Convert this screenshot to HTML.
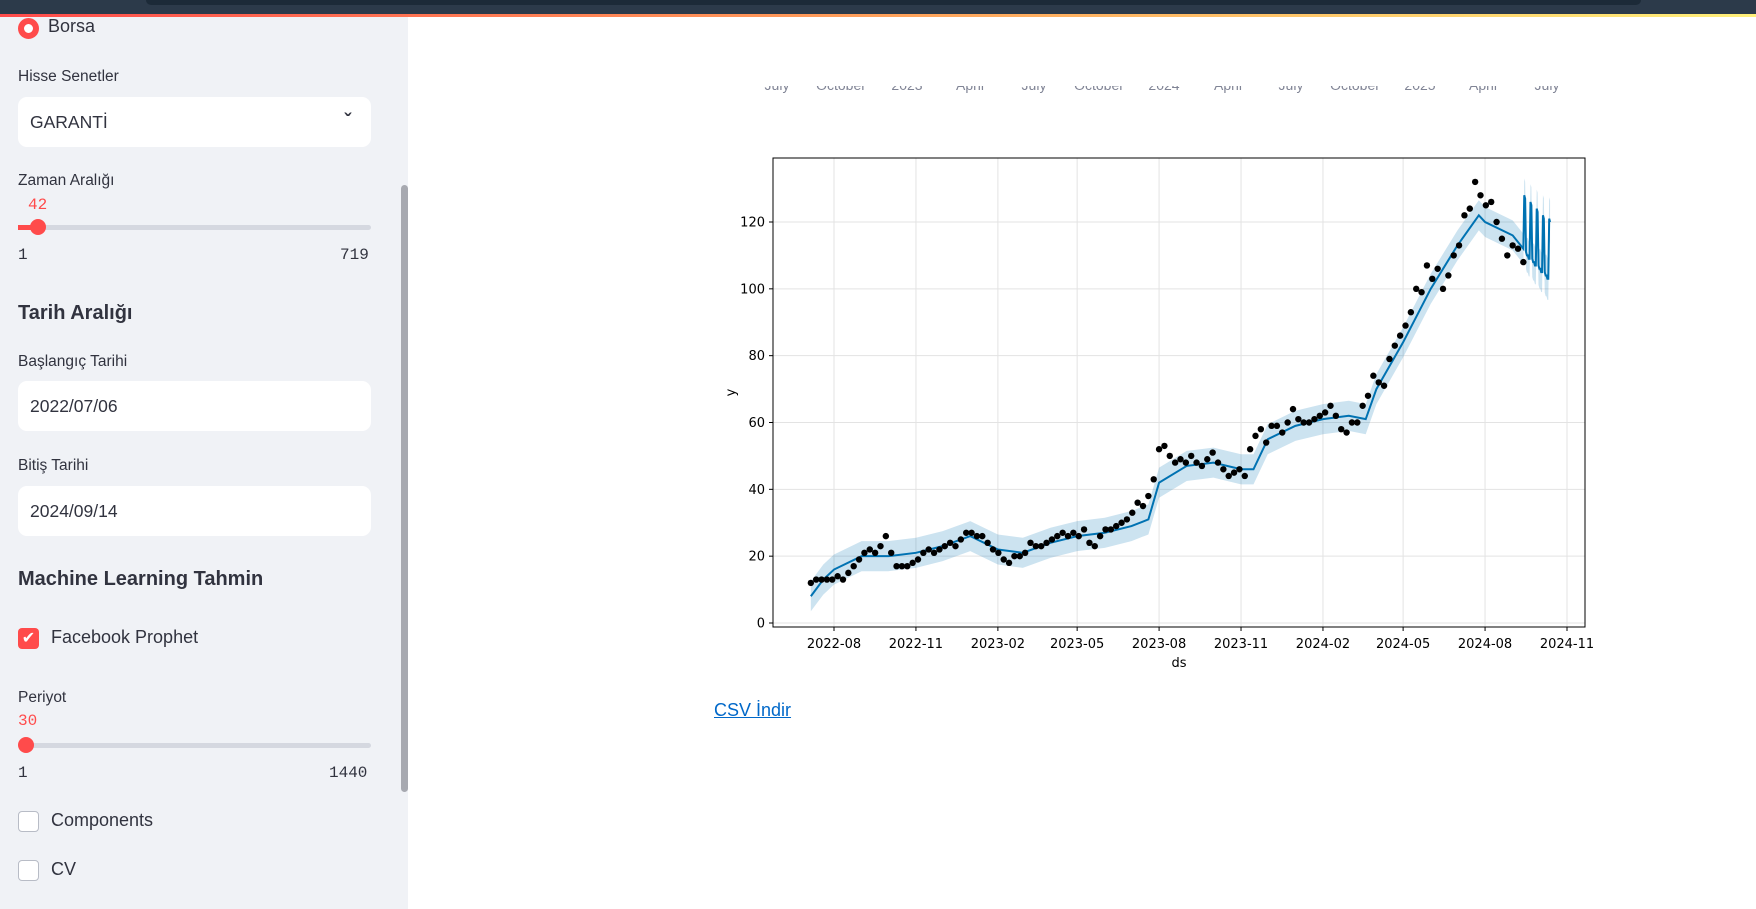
<!DOCTYPE html>
<html><head><meta charset="utf-8">
<style>
body{margin:0;width:1756px;height:909px;overflow:hidden;background:#fff;font-family:"Liberation Sans","DejaVu Sans",sans-serif;position:relative;color:#31333f}
.abs{position:absolute}
#sidebar{left:0;top:0;width:408px;height:909px;background:#f0f2f6}
.lbl{font-size:15.5px;color:#31333f}
.box{background:#fff;border-radius:9px;left:18px;width:353px;height:50px;font-size:17.5px;line-height:50px;text-indent:12px}
.h{font-size:20px;font-weight:bold}
.track{left:18px;width:353px;height:5px;background:#d5d8e0;border-radius:3px}
.mono{font-family:"Liberation Mono",monospace;font-size:16px}
.cb{width:19px;height:19px;border:1px solid #b8bcc6;border-radius:4px;background:#fff;left:18px}
</style></head><body>
<div class="abs" id="sidebar"></div>
<div class="abs" style="left:0;top:0;width:1756px;height:14px;background:#2c3a4a;z-index:5"></div>
<div class="abs" style="left:146px;top:0;width:1495px;height:5px;background:#1c2a38;border-radius:0 0 8px 8px;z-index:6"></div>
<div class="abs" style="left:0;top:14px;width:1756px;height:3px;background:linear-gradient(90deg,#ff4b4b,#ffa05a,#fff07a);z-index:5"></div>

<div class="abs" style="left:401px;top:185px;width:7px;height:607px;background:#a7a9b0;border-radius:4px"></div>
<div class="abs" style="left:18px;top:18px;width:9px;height:9px;border:6px solid #ff4b4b;border-radius:50%;background:#fff"></div>
<div class="abs" style="left:48px;top:16px;font-size:18px">Borsa</div>
<div class="abs lbl" style="left:18px;top:68px">Hisse Senetler</div>
<div class="abs box" style="top:97px">GARANTİ<span style="position:absolute;right:20px;top:0;font-size:20px;font-weight:bold">&#711;</span></div>
<div class="abs lbl" style="left:18px;top:172px">Zaman Aralığı</div>
<div class="abs mono" style="left:28px;top:196px;color:#ff4b4b">42</div>
<div class="abs track" style="top:225px"></div>
<div class="abs" style="left:18px;top:225px;width:20px;height:5px;background:#ff4b4b"></div>
<div class="abs" style="left:30px;top:219px;width:16px;height:16px;border-radius:50%;background:#ff4b4b"></div>
<div class="abs mono" style="left:18px;top:246px">1</div>
<div class="abs mono" style="left:340px;top:246px">719</div>
<div class="abs h" style="left:18px;top:302px">Tarih Aralığı</div>
<div class="abs lbl" style="left:18px;top:353px">Başlangıç Tarihi</div>
<div class="abs box" style="top:381px">2022/07/06</div>
<div class="abs lbl" style="left:18px;top:457px">Bitiş Tarihi</div>
<div class="abs box" style="top:486px">2024/09/14</div>
<div class="abs h" style="left:18px;top:568px">Machine Learning Tahmin</div>
<div class="abs" style="left:18px;top:628px;width:21px;height:21px;background:#ff4b4b;border-radius:4px;color:#fff;font-size:16px;line-height:21px;text-align:center">✔</div>
<div class="abs" style="left:51px;top:627px;font-size:18px">Facebook Prophet</div>
<div class="abs lbl" style="left:18px;top:689px">Periyot</div>
<div class="abs mono" style="left:18px;top:712px;color:#ff4b4b">30</div>
<div class="abs track" style="top:743px"></div>
<div class="abs" style="left:18px;top:737px;width:16px;height:16px;border-radius:50%;background:#ff4b4b"></div>
<div class="abs mono" style="left:18px;top:764px">1</div>
<div class="abs mono" style="left:329px;top:764px">1440</div>
<div class="abs cb" style="top:811px"></div>
<div class="abs" style="left:51px;top:810px;font-size:18px">Components</div>
<div class="abs cb" style="top:860px"></div>
<div class="abs" style="left:51px;top:859px;font-size:18px">CV</div>

<div class="abs" style="left:700px;top:86px;width:900px;height:20px;overflow:hidden">
<div id="prevaxis" style="position:relative;top:-9px;font-size:14px;color:#808495"></div></div>

<svg class="abs" id="chart" style="left:0;top:0" width="1756" height="909"></svg>

<a class="abs" style="left:714px;top:700px;font-size:18px;color:#0068c9;text-decoration:underline">CSV İndir</a>

<script>
const prevLabels=["July","October","2023","April","July","October","2024","April","July","October","2025","April","July"];
const prevX=[777,841,907,970,1034,1099,1164,1228,1291,1355,1420,1483,1547];
const pa=document.getElementById('prevaxis');
prevLabels.forEach((t,i)=>{const s=document.createElement('span');


s.textContent=t;s.style.position='absolute';s.style.left=(prevX[i]-700)+'px';s.style.transform='translateX(-50%)';pa.appendChild(s);});

// ---- chart data ----
const obsStart="2022-07-06";
const obsEnd="2024-09-13";
const obsValues=[12,13,13,13,13,14,13,15,17,19,21,22,21,23,26,21,17,17,17,18,19,21,22,21,22,23,24,23,25,27,27,26,26,24,22,21,19,18,20,20,21,24,23,23,24,25,26,27,26,27,26,28,24,23,26,28,28,29,30,31,33,36,35,38,43,52,53,50,48,49,48,50,48,47,49,51,48,46,44,45,46,44,52,56,58,54,59,59,57,60,64,61,60,60,61,62,63,65,62,58,57,60,60,65,68,74,72,71,79,83,86,89,93,100,99,107,103,106,100,104,110,113,122,124,132,128,125,126,120,115,110,113,112,108];
const trendDates=["2022-07-06","2022-07-20","2022-08-01","2022-09-01","2022-10-01","2022-11-01","2022-12-01","2023-01-01","2023-02-01","2023-03-01","2023-04-01","2023-05-01","2023-06-01","2023-07-01","2023-07-20","2023-08-01","2023-09-01","2023-10-01","2023-11-01","2023-11-15","2023-12-01","2024-01-01","2024-02-01","2024-03-01","2024-03-20","2024-04-01","2024-05-01","2024-06-01","2024-07-01","2024-07-25","2024-08-01","2024-09-01","2024-09-13"];
const trendVals=[8,13,16,20,20,21,23,26,22,21,24,26,27,29,31,42,47,48,46,46,55,59,61,62,61,70,84,100,113,122,120,116,112];
const fcStart="2024-09-14";
const fcVals=[128,127,111,110,110,109,109,126,125,109,108,108,107,107,124,123,107,106,106,105,105,122,121,105,104,104,103,103,121,120];
const bandHalf=[4.5,4.5,4.5,4.5,4.5,4.5,4.5,4.5,4.5,4.5,4.5,4.5,4.5,4.5,4.5,4.5,4.5,4.5,4.5,4.5,4.5,4.5,4.5,4.5,4.5,4.5,4.5,4.5,4.5,4.5,4.5,4.5,4.5];
const yTicks=[0,20,40,60,80,100,120];
const xTicks=["2022-08","2022-11","2023-02","2023-05","2023-08","2023-11","2024-02","2024-05","2024-08","2024-11"];

const NS="http://www.w3.org/2000/svg",svg=document.getElementById('chart');
const L=773,R=1585,T=158,B=627;
const d0=Date.parse("2022-08-01"),d1=Date.parse("2024-11-01");
const XT=t=>834+(t-d0)/(d1-d0)*(1567-834);
const X=d=>XT(Date.parse(d));
const Y=v=>623-v*(623-222)/120;
const day=864e5, iso=t=>new Date(t).toISOString().slice(0,10);
function el(tag,at,name){const e=document.createElementNS(NS,tag);for(const k in at)e.setAttribute(k,at[k]);


svg.appendChild(e);return e;}
el('rect',{x:L,y:T,width:R-L,height:B-T,fill:'#fff'},'plot-area');
yTicks.forEach(v=>{el('line',{x1:L,x2:R,y1:Y(v),y2:Y(v),stroke:'#e3e3e3','stroke-width':1},'y-gridline');
el('line',{x1:L-4,x2:L,y1:Y(v),y2:Y(v),stroke:'#000'},'y-tick');
const t=el('text',{x:L-8,y:Y(v)+4.5,'text-anchor':'end','font-size':13,'font-family':'DejaVu Sans'},'y-tick-label');t.textContent=v;});
xTicks.forEach(m=>{const x=X(m+"-01");el('line',{x1:x,x2:x,y1:T,y2:B,stroke:'#e3e3e3'},'x-gridline');
el('line',{x1:x,x2:x,y1:B,y2:B+4,stroke:'#000'},'x-tick');
const t=el('text',{x:x,y:B+21,'text-anchor':'middle','font-size':13,'font-family':'DejaVu Sans'},'x-tick-label');t.textContent=m;});
const tD=trendDates.slice(),tV=trendVals.slice(),tH=bandHalf.slice();
const fs=Date.parse(fcStart);
fcVals.forEach((v,i)=>{tD.push(iso(fs+i*day));tV.push(v);tH.push(5+i*0.05);});
let up="",lo="";
tD.forEach((d,i)=>{up+=(i?"L":"M")+X(d)+","+Y(tV[i]+tH[i]);});
for(let i=tD.length-1;i>=0;i--)lo+="L"+X(tD[i])+","+Y(tV[i]-tH[i]);
el('path',{d:up+lo+"Z",fill:'#0072B2','fill-opacity':0.2,stroke:'none'},'uncertainty-band');
el('path',{d:tD.map((d,i)=>(i?"L":"M")+X(d)+","+Y(tV[i])).join(""),fill:'none',stroke:'#0072B2','stroke-width':2},'forecast-line');
const os=Date.parse(obsStart),oe=Date.parse(obsEnd),step=(oe-os)/(obsValues.length-1);
obsValues.forEach((v,i)=>{el('circle',{cx:XT(os+i*step),cy:Y(v),r:3.2,fill:'#000'},'observed-point');});
el('rect',{x:L,y:T,width:R-L,height:B-T,fill:'none',stroke:'#000','stroke-width':1},'plot-frame');
let t=el('text',{x:(L+R)/2,y:B+40,'text-anchor':'middle','font-size':13,'font-family':'DejaVu Sans'},'x-axis-title');t.textContent="ds";
t=el('text',{x:0,y:0,'text-anchor':'middle','font-size':13,'font-family':'DejaVu Sans',transform:`translate(735,${(T+B)/2}) rotate(-90)`},'y-axis-title');t.textContent="y";
</script>
</body></html>
